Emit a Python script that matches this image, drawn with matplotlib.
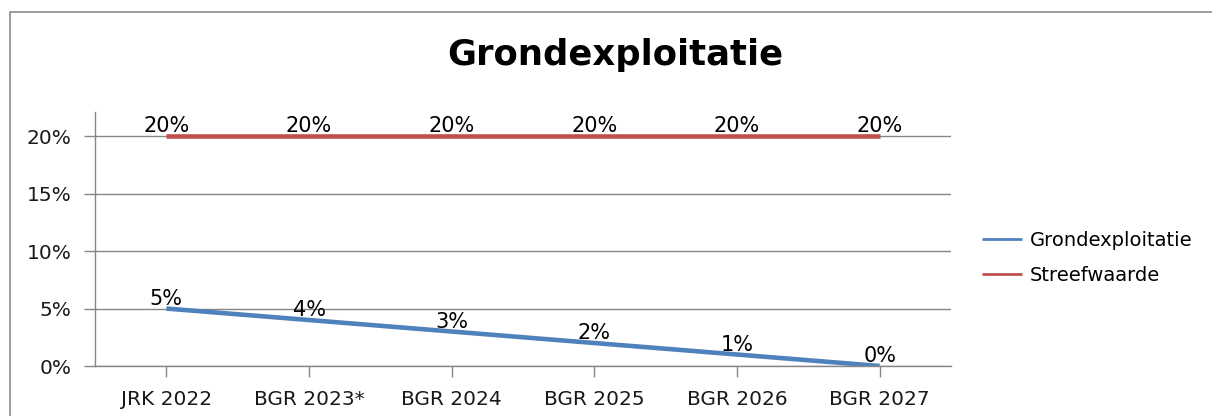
import matplotlib.pyplot as plt
from matplotlib.patches import Rectangle

# --------- data ---------
categories = ["JRK 2022", "BGR 2023*", "BGR 2024", "BGR 2025", "BGR 2026", "BGR 2027"]
grondexploitatie = [5, 4, 3, 2, 1, 0]
streefwaarde = [20, 20, 20, 20, 20, 20]
y_ticks = [0, 5, 10, 15, 20]

BLUE = "#4F81BD"
RED = "#C0504D"
GRID = "#868686"

plt.rcParams['font.family'] = ['DejaVu Sans']

fig = plt.figure(figsize=(12.12, 4.16), dpi=100)
ax = fig.add_axes([95/1212, 1-366/416, (951-95)/1212, (366-112)/416])

# kader rond de grafiek
fig.patches.append(Rectangle((10/1212, -0.1), 1.2, 1-12/416+0.1, transform=fig.transFigure,
                             fill=False, edgecolor="#8c8c8c", linewidth=1.2))

x = list(range(len(categories)))
ax.plot(x, grondexploitatie, color=BLUE, lw=3.3, label="Grondexploitatie", solid_capstyle="butt")
ax.plot(x, streefwaarde, color=RED, lw=3.3, label="Streefwaarde", solid_capstyle="butt")

for serie in (grondexploitatie, streefwaarde):
    for xi, v in zip(x, serie):
        ax.annotate(f"{v}%", (xi, v), xytext=(0, 0), textcoords="offset points",
                    ha="center", va="bottom", fontsize=15, color="black")

ax.set_xlim(-0.5, len(categories) - 0.5)
ax.set_ylim(0, 22.1)
ax.set_yticks(y_ticks)
ax.set_yticklabels([f"{t}%" for t in y_ticks])
ax.set_xticks(x)
ax.set_xticklabels(categories)
ax.grid(axis="y", color=GRID, lw=1)
ax.set_axisbelow(True)

for s in ["top", "right"]:
    ax.spines[s].set_visible(False)
for s in ["left", "bottom"]:
    ax.spines[s].set_color(GRID)
    ax.spines[s].set_linewidth(1)
ax.tick_params(axis="both", colors=GRID, labelcolor="#1a1a1a", labelsize=14.5, length=8, width=1)
ax.tick_params(axis="x", pad=9)
ax.tick_params(axis="y", pad=9)

fig.text(615/1212, 1-55/416, "Grondexploitatie", ha="center", va="center",
         fontsize=25.5, fontweight="bold")

leg = fig.legend(loc="center left", bbox_to_anchor=(982/1212, 1-258/416), frameon=False,
                 fontsize=14, handlelength=2.05, labelspacing=0.85, handletextpad=0.4,
                 borderpad=0, borderaxespad=0)
for line in leg.get_lines():
    line.set_linewidth(2)

fig.savefig("out.png", dpi=100)
